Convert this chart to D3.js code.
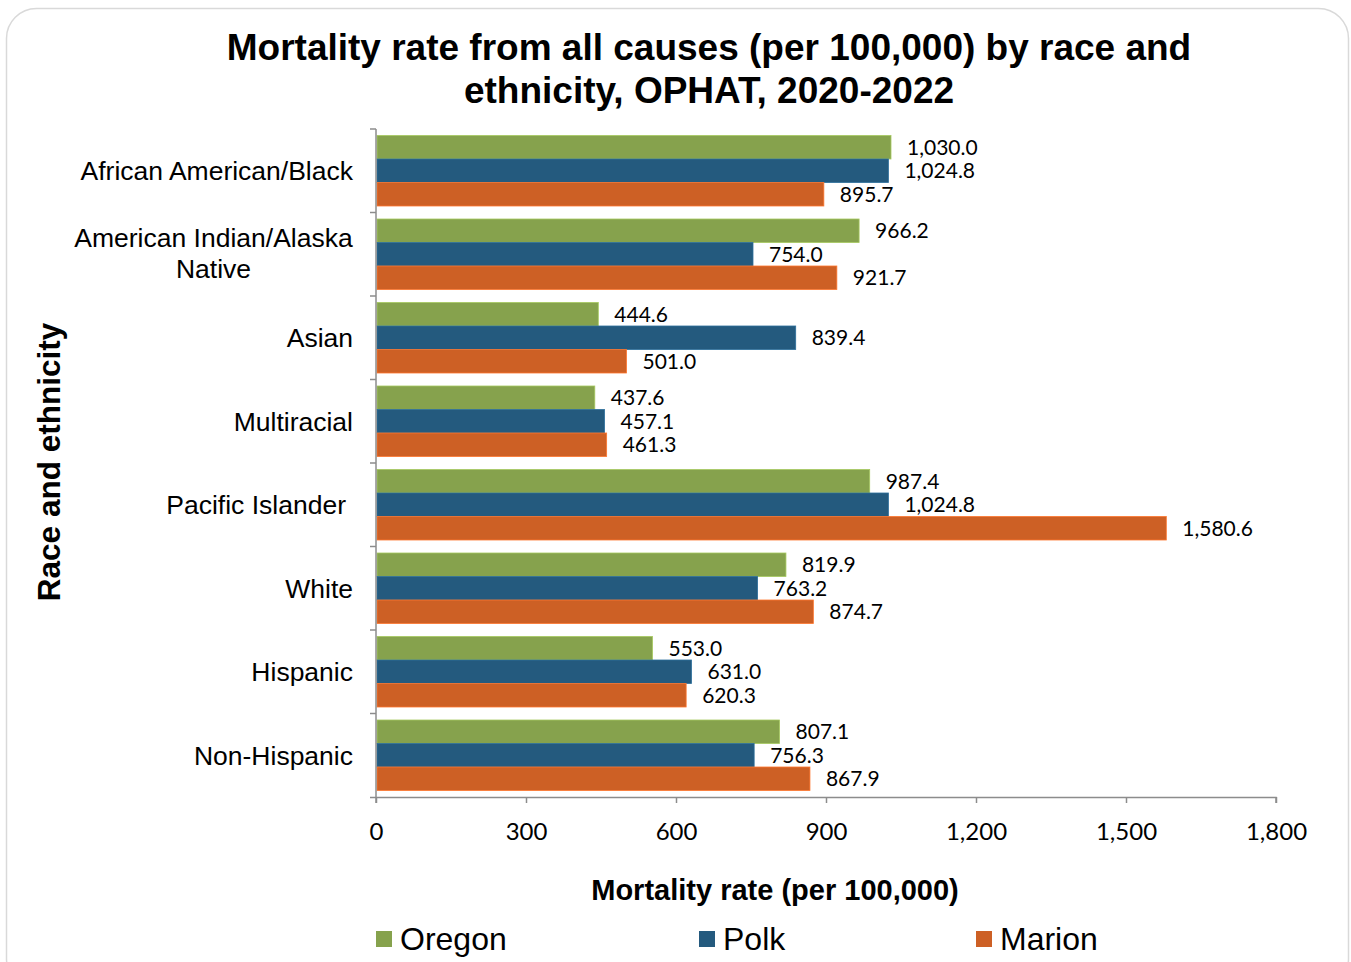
<!DOCTYPE html>
<html><head><meta charset="utf-8">
<script src="https://cdn.jsdelivr.net/npm/d3@7"></script>
<style>body{margin:0;background:#fff;}svg{display:block;}</style>
</head><body>
<svg id="c" width="1351" height="962"></svg>
<script>
const categories = ["African American/Black","American Indian/Alaska Native","Asian","Multiracial","Pacific Islander","White","Hispanic","Non-Hispanic"];
const seriesNames = ["Oregon","Polk","Marion"];
const oregon = [1030.0, 966.2, 444.6, 437.6, 987.4, 819.9, 553.0, 807.1];
const polk   = [1024.8, 754.0, 839.4, 457.1, 1024.8, 763.2, 631.0, 756.3];
const marion = [895.7, 921.7, 501.0, 461.3, 1580.6, 874.7, 620.3, 867.9];
const xTicks = [0, 300, 600, 900, 1200, 1500, 1800];
const colors = ["#86a24d", "#245a7e", "#cd6025"];

(function(){
const svg = d3.select("#c");
svg.append("rect").attr("x",6.5).attr("y",8.5).attr("width",1342).attr("height",980)
  .attr("rx",30).attr("fill","#fff").attr("stroke","#d9d9d9").attr("stroke-width",1.5);

const pl = 376, pr = 1276, pt = 129, pb = 797;
const x = d3.scaleLinear().domain([0,1800]).range([pl,pr]);
const y = d3.scaleBand().domain(categories).range([pt,pb]).padding(0);
const inner = d3.scaleBand().domain(seriesNames).range([6.5, y.bandwidth()-6.5]).padding(0);
const series = [oregon, polk, marion];

const labelFont = "Lato, 'Open Sans', sans-serif";
const arial = "'Liberation Sans', Arial, sans-serif";
const fmt = d3.format(",.1f");

series.forEach((vals, si) => {
  const g = svg.append("g");
  g.selectAll("rect").data(categories).join("rect")
    .attr("x", x(0)+1)
    .attr("y", d => y(d) + inner(seriesNames[si]))
    .attr("width", (d,i) => x(vals[i]) - x(0) - 1)
    .attr("height", inner.bandwidth())
    .attr("fill", colors[si])
    .attr("stroke", d3.color(colors[si]).brighter(0.6))
    .attr("stroke-width", 0.8);
  g.selectAll("text").data(categories).join("text")
    .attr("x", (d,i) => x(vals[i]) + 16)
    .attr("y", d => y(d) + inner(seriesNames[si]) + inner.bandwidth()/2)
    .attr("dy","0.35em")
    .attr("font-family", labelFont).attr("font-size", 21).attr("fill","#000")
    .text((d,i) => fmt(vals[i]));
});

const xAxis = d3.axisBottom(x).tickValues(xTicks).tickSize(6).tickPadding(20).tickFormat(d3.format(","));
const gx = svg.append("g").attr("transform",`translate(0,${pb})`).call(xAxis);
gx.select(".domain").attr("stroke","#8c8c8c").attr("stroke-width",1.5).attr("d", `M${pl-6},0.5H${pr}V6`);
gx.selectAll(".tick line").attr("stroke","#8c8c8c").attr("stroke-width",1.5);
gx.selectAll(".tick text").attr("font-family",labelFont).attr("font-size",24).attr("fill","#000");

const gy = svg.append("g");
gy.append("line").attr("x1",pl).attr("x2",pl).attr("y1",pt).attr("y2",pb+6)
  .attr("stroke","#8c8c8c").attr("stroke-width",1.5);
const bounds = categories.map(c => y(c));
gy.selectAll("line.t").data(bounds).join("line").attr("class","t")
  .attr("x1",pl-6).attr("x2",pl).attr("y1",d=>d).attr("y2",d=>d)
  .attr("stroke","#8c8c8c").attr("stroke-width",1.5);

categories.forEach(c => {
  const cy = y(c) + y.bandwidth()/2;
  if (c === "American Indian/Alaska Native") {
    const t = svg.append("text").attr("font-family",arial).attr("font-size",26.5).attr("text-anchor","middle").attr("fill","#000");
    t.append("tspan").attr("x",213.5).attr("y",cy-17).attr("dy","0.35em").text("American Indian/Alaska");
    t.append("tspan").attr("x",213.5).attr("y",cy+14).attr("dy","0.35em").text("Native");
  } else {
    const xr = c === "Pacific Islander" ? 346 : 353;
    svg.append("text").attr("x",xr).attr("y",cy).attr("dy","0.35em")
      .attr("font-family",arial).attr("font-size",26.5).attr("text-anchor","end").attr("fill","#000").text(c);
  }
});

const title = svg.append("text").attr("font-family",arial).attr("font-weight","bold").attr("font-size",37)
  .attr("text-anchor","middle").attr("fill","#000");
title.append("tspan").attr("x",709).attr("y",60).text("Mortality rate from all causes (per 100,000) by race and");
title.append("tspan").attr("x",709).attr("y",103).text("ethnicity, OPHAT, 2020-2022");

svg.append("text").attr("x",775).attr("y",900).attr("text-anchor","middle")
  .attr("font-family",arial).attr("font-weight","bold").attr("font-size",29).text("Mortality rate (per 100,000)");
svg.append("text").attr("transform","translate(60,462) rotate(-90)").attr("text-anchor","middle")
  .attr("font-family",arial).attr("font-weight","bold").attr("font-size",31.5).text("Race and ethnicity");

const legX = [376, 699, 976];
seriesNames.forEach((s,i) => {
  svg.append("rect").attr("x",legX[i]).attr("y",931).attr("width",16).attr("height",16).attr("fill",colors[i]);
  svg.append("text").attr("x",legX[i]+24).attr("y",950).attr("font-family",arial).attr("font-size",32).attr("fill","#000").text(s);
});
})();
</script>
</body></html>
